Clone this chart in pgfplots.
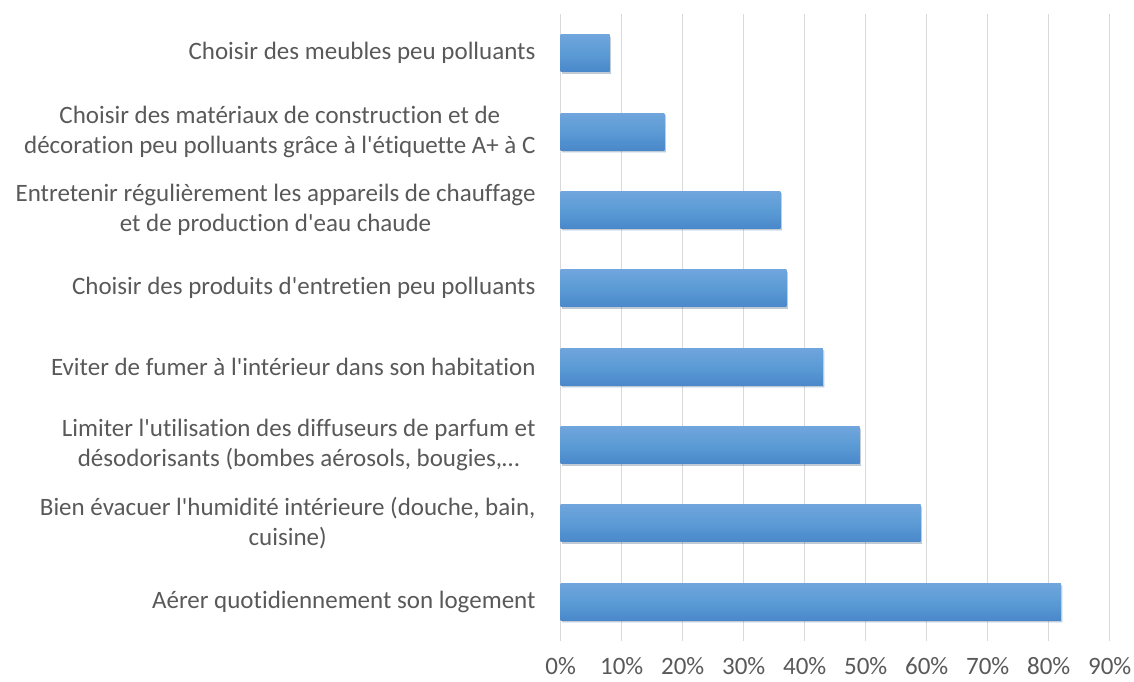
\documentclass[border=0pt]{standalone}
\usepackage{pgfplots}
\pgfplotsset{compat=1.18}
\usepackage{fontspec}
\setmainfont{Carlito}[Ligatures={TeXOff,NoCommon}]
\definecolor{textgray}{HTML}{595959}
\definecolor{gridgray}{HTML}{D9D9D9}
\definecolor{bartop}{HTML}{70A5DD}
\definecolor{barmid}{HTML}{5B9BD5}
\definecolor{barbot}{HTML}{4A88CA}
\tikzset{mybar/.style={draw=none, top color=bartop, bottom color=barbot, middle color=barmid,
  preaction={fill=black, fill opacity=0.16, transform canvas={xshift=1.5pt,yshift=-2pt}}}}
\begin{document}
\begin{tikzpicture}
\useasboundingbox (0,0) rectangle (1134pt,681pt);
\begin{axis}[
  at={(560.7pt,40pt)}, anchor=south west,
  scale only axis, width=549pt, height=627pt,
  xbar, xmin=0, xmax=90, ymin=-0.5, ymax=7.5,
  bar width=37pt, bar shift=0pt,
  xtick={0,10,...,90},
  ytick={0,...,7},
  yticklabels={
    {Aérer quotidiennement son logement},
    {Bien évacuer l'humidité intérieure (douche, bain,\\cuisine)},
    {Limiter l'utilisation des diffuseurs de parfum et\\désodorisants (bombes aérosols, bougies,…},
    {Eviter de fumer à l'intérieur dans son habitation},
    {Choisir des produits d'entretien peu polluants},
    {Entretenir régulièrement les appareils de chauffage\\et de production d'eau chaude},
    {Choisir des matériaux de construction et de\\décoration peu polluants grâce à l'étiquette A+ à C},
    {Choisir des meubles peu polluants}},
  xticklabel={\pgfmathprintnumber{\tick}\%},
  /pgf/number format/assume math mode=true,
  axis line style={draw=none},
  major tick length=0pt,
  xmajorgrids, ymajorgrids=false,
  grid style={draw=gridgray, line width=1pt},
  tick label style={font=\fontsize{25pt}{30pt}\selectfont, text=textgray, inner sep=0pt},
  yticklabel style={anchor=east, align=center, xshift=-25pt},
  xticklabel style={anchor=center, yshift=-25pt},
  clip=false,
]
\addplot[mybar] coordinates {(82,0)};
\addplot[mybar] coordinates {(59,1)};
\addplot[mybar] coordinates {(49,2)};
\addplot[mybar] coordinates {(43,3)};
\addplot[mybar] coordinates {(37,4)};
\addplot[mybar] coordinates {(36,5)};
\addplot[mybar] coordinates {(17,6)};
\addplot[mybar] coordinates {(8,7)};
\end{axis}
\end{tikzpicture}
\end{document}
